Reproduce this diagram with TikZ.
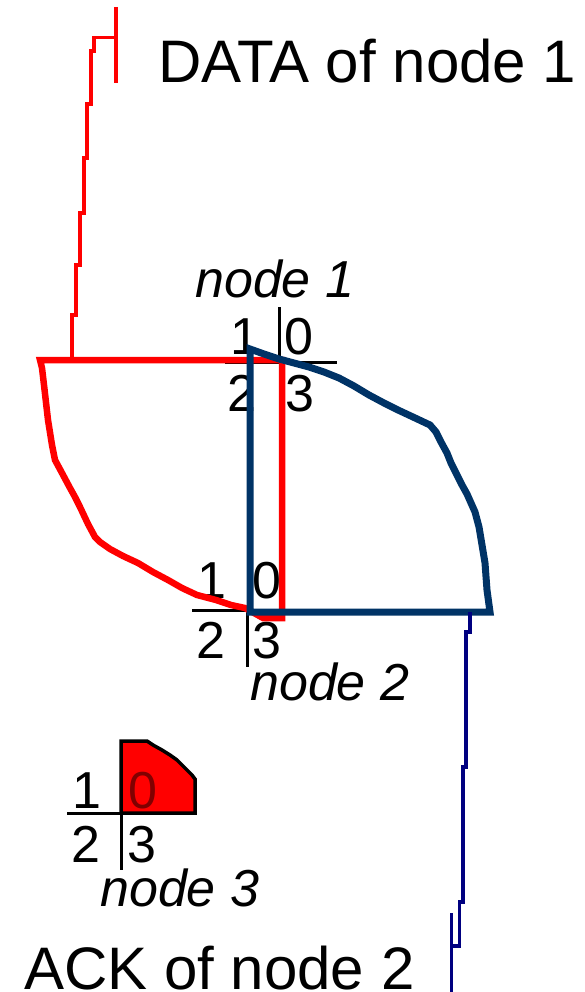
\documentclass[tikz,border=0pt]{standalone}
\usepackage{fontspec}
\setmainfont{Liberation Sans}
\definecolor{tracered}{HTML}{FF0000}
\definecolor{regionblue}{HTML}{003366}
\definecolor{acknavy}{HTML}{000080}
\definecolor{digitred}{HTML}{800000}
\tikzset{
  bigtext/.style={font=\fontsize{60}{60}\selectfont, text=black, inner sep=0pt, anchor=base west},
  nodetext/.style={font=\fontsize{52}{52}\selectfont\itshape, text=black, inner sep=0pt, anchor=base west},
  quaddigit/.style={font=\fontsize{52}{52}\selectfont, text=black, inner sep=0pt, anchor=base},
  crossline/.style={draw=black, line width=3pt},
  datatrace/.style={draw=tracered, line width=3.7pt},
  redregion/.style={draw=tracered, line width=6.5pt},
  blueregion/.style={draw=regionblue, line width=7pt},
  acktrace/.style={draw=acknavy, line width=3.5pt},
  quarterfill/.style={draw=black, fill=tracered, line width=3.5pt}
}
\begin{document}
\begin{tikzpicture}[x=1pt,y=-1pt]
  \useasboundingbox (0,0) rectangle (584,992);
  % coordinates in pixels of the 584x992 sheet, y pointing down

  % node 1 quadrants
  \draw[crossline] (225,362) -- (337,362);
  \draw[crossline] (279,307) -- (279,362);
  \node[quaddigit] (n1q1) at (245,354) {1};
  \node[quaddigit] (n1q0) at (299,354) {0};
  \node[quaddigit] (n1q2) at (242,411) {2};
  \node[quaddigit] (n1q3) at (300,411) {3};
  \node[nodetext] (n1label) at (195,297) {node 1};

  % node 2 quadrants
  \draw[crossline] (192,610) -- (303,610);
  \draw[crossline] (247,610) -- (247,667);
  \node[quaddigit] (n2q1) at (212,598) {1};
  \node[quaddigit] (n2q0) at (267,598) {0};
  \node[quaddigit] (n2q2) at (211,658) {2};
  \node[quaddigit] (n2q3) at (267,658) {3};
  \node[nodetext] (n2label) at (250,700) {node 2};

  % node 3 quadrants, sector 0 filled
  \filldraw[quarterfill] (121,813) -- (121,741) -- (147,741) -- (153,745) -- (162,750)
    -- (170,755) -- (177,760) -- (182,765) -- (187,770) -- (192,775) -- (195,779)
    -- (195,813) -- cycle;
  \draw[crossline] (67,813) -- (197,813);
  \draw[crossline] (121,740) -- (121,870);
  \node[quaddigit] (n3q1) at (87,808) {1};
  \node[quaddigit, text=digitred] (n3q0) at (142.5,808) {0};
  \node[quaddigit] (n3q2) at (85.5,862) {2};
  \node[quaddigit] (n3q3) at (141.5,862) {3};
  \node[nodetext] (n3label) at (100,906) {node 3};

  % DATA trace of node 1 and its region
  \draw[datatrace] (116,7) -- (116,83);
  \draw[datatrace] (116,37.5) -- (94,37.5) -- (94,51) -- (91,51) -- (91,104) -- (87,104)
    -- (87,158) -- (84,158) -- (84,213) -- (80,213) -- (80,265) -- (76,265)
    -- (76,315) -- (72,315) -- (72,360);
  \draw[redregion] (40,360) -- (282,360) -- (282,618) -- (263,618) -- (245,608)
    -- (231,605) -- (216,600) -- (197,595) -- (182,588) -- (168,580) -- (153,572)
    -- (138,563) -- (123,556) -- (110,549) -- (100,542) -- (95,537) -- (88,524)
    -- (80,507) -- (75,497) -- (70,488) -- (62,473) -- (55,460) -- (52,445)
    -- (48,420) -- (44,385) -- (42,368) -- cycle;

  % ACK region of node 2 and its trace
  \draw[blueregion] (250,349) -- (264,354) -- (279,359) -- (294,363) -- (309,367)
    -- (324,372) -- (339,378) -- (354,386) -- (369,395) -- (384,403) -- (398,410)
    -- (413,417) -- (430,425) -- (436,432) -- (441,442) -- (447,453) -- (451,463)
    -- (456,473) -- (462,485) -- (467,494) -- (471,503) -- (475,512) -- (479,527)
    -- (482,545) -- (485,563) -- (487,590) -- (490,612) -- (250,612) -- cycle;
  \draw[acktrace] (470,612) -- (470,632) -- (466,632) -- (466,767) -- (463,767)
    -- (463,902) -- (459.5,902) -- (459.5,946) -- (451.5,946);
  \draw[acktrace] (451.5,913) -- (451.5,992);

  \node[bigtext] (datalabel) at (158,83) {DATA of node 1};
  \node[bigtext] (acklabel) at (24,989) {ACK of node 2};
\end{tikzpicture}
\end{document}
